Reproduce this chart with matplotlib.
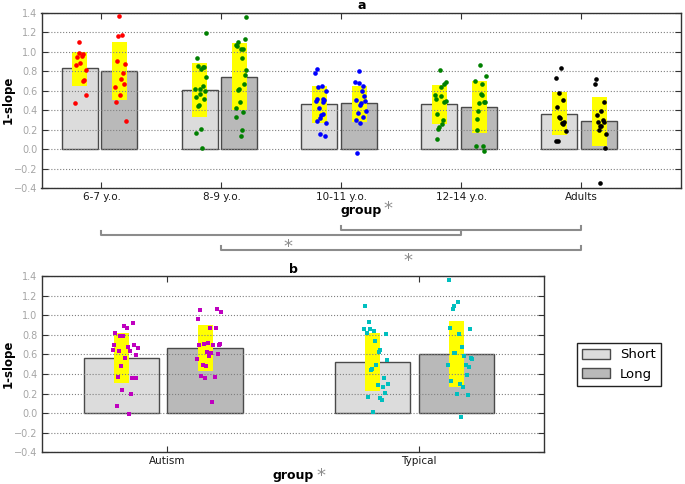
import matplotlib
matplotlib.use("Agg")
import matplotlib.pyplot as plt
from matplotlib.patches import Patch
from matplotlib.transforms import blended_transform_factory

W, H = 685, 484

# ---- panel a: age groups ----
age_groups = ["6-7 y.o.", "8-9 y.o.", "10-11 y.o.", "12-14 y.o.", "Adults"]
age_colors = ["r", "g", "b", "g", "k"]
a_short_mean = [0.83, 0.61, 0.464, 0.461, 0.358]
a_long_mean = [0.80, 0.744, 0.471, 0.434, 0.283]
a_short_lo = [0.65, 0.33, 0.27, 0.26, 0.14]
a_short_hi = [1.00, 0.888, 0.652, 0.659, 0.584]
a_long_lo = [0.50, 0.406, 0.277, 0.16, 0.027]
a_long_hi = [1.10, 1.086, 0.652, 0.703, 0.533]

a_short_pts = [
    [1.10, 0.983, 0.976, 0.949, 0.96, 0.88, 0.86, 0.816, 0.71, 0.70, 0.556, 0.468],
    [1.188, 0.932, 0.857, 0.847, 0.84, 0.819, 0.741, 0.649, 0.618, 0.615, 0.591, 0.539,
     0.563, 0.509, 0.457, 0.444, 0.205, 0.164, 0.007],
    [0.826, 0.785, 0.652, 0.635, 0.601, 0.512, 0.498, 0.512, 0.502, 0.488, 0.417, 0.362,
     0.345, 0.318, 0.29, 0.263, 0.154, 0.13],
    [0.809, 0.69, 0.673, 0.638, 0.56, 0.546, 0.516, 0.492, 0.485, 0.362, 0.3, 0.259,
     0.225, 0.201, 0.099],
    [0.836, 0.731, 0.58, 0.502, 0.434, 0.331, 0.321, 0.273, 0.263, 0.256, 0.184, 0.079, 0.079],
]
a_short_jit = [
    [-0.186, -0.19, -0.158, -0.2, -0.164, -0.18, -0.21, -0.133, -0.147, -0.156, -0.125, -0.217],
    [-0.131, -0.203, -0.197, -0.156, -0.142, -0.167, -0.125, -0.153, -0.219, -0.181, -0.136,
     -0.214, -0.175, -0.144, -0.189, -0.194, -0.172, -0.211, -0.161],
    [-0.206, -0.217, -0.161, -0.192, -0.131, -0.2, -0.214, -0.15, -0.144, -0.156, -0.186,
     -0.153, -0.169, -0.181, -0.2, -0.125, -0.175, -0.136],
    [-0.178, -0.131, -0.142, -0.167, -0.219, -0.172, -0.211, -0.131, -0.142, -0.2, -0.156,
     -0.161, -0.186, -0.192, -0.206],
    [-0.169, -0.211, -0.183, -0.156, -0.206, -0.189, -0.178, -0.142, -0.158, -0.15, -0.131,
     -0.214, -0.194],
]
a_long_pts = [
    [1.366, 1.164, 1.175, 0.905, 0.871, 0.785, 0.724, 0.673, 0.642, 0.553, 0.488, 0.283],
    [1.352, 1.103, 1.133, 1.065, 1.062, 1.031, 1.024, 0.939, 0.809, 0.758, 0.666, 0.618,
     0.611, 0.478, 0.423, 0.376, 0.328, 0.198, 0.137],
    [0.806, 0.693, 0.676, 0.652, 0.591, 0.543, 0.495, 0.502, 0.471, 0.454, 0.393, 0.372,
     0.331, 0.297, 0.266, -0.041],
    [0.867, 0.755, 0.703, 0.669, 0.57, 0.556, 0.488, 0.481, 0.475, 0.393, 0.311, 0.191,
     0.027, 0.027, -0.02],
    [0.717, 0.666, 0.478, 0.389, 0.345, 0.3, 0.273, 0.28, 0.236, 0.239, 0.198, 0.15, 0.007, -0.348],
]
a_long_jit = [
    [0.147, 0.139, 0.175, 0.128, 0.197, 0.18, 0.164, 0.189, 0.114, 0.155, 0.122, 0.205],
    [0.203, 0.136, 0.192, 0.117, 0.133, 0.178, 0.161, 0.169, 0.208, 0.197, 0.189, 0.144,
     0.136, 0.153, 0.117, 0.183, 0.125, 0.172, 0.161],
    [0.144, 0.114, 0.144, 0.183, 0.169, 0.189, 0.197, 0.125, 0.161, 0.153, 0.208, 0.136,
     0.181, 0.122, 0.158, 0.131],
    [0.156, 0.206, 0.114, 0.169, 0.161, 0.175, 0.197, 0.186, 0.15, 0.139, 0.128, 0.133,
     0.119, 0.181, 0.192],
    [0.119, 0.114, 0.186, 0.164, 0.128, 0.178, 0.136, 0.189, 0.167, 0.156, 0.144, 0.208,
     0.197, 0.156],
]

# ---- panel b: diagnosis ----
diag_groups = ["Autism", "Typical"]
diag_colors = ["m", "c"]
b_short_mean = [0.563, 0.522]
b_long_mean = [0.663, 0.604]
b_short_lo = [0.305, 0.226]
b_short_hi = [0.818, 0.818]
b_long_lo = [0.428, 0.268]
b_long_hi = [0.896, 0.938]

b_short_pts = [
    [0.919, 0.892, 0.868, 0.814, 0.787, 0.787, 0.695, 0.675, 0.692, 0.665, 0.645, 0.638,
     0.638, 0.59, 0.563, 0.485, 0.366, 0.36, 0.363, 0.241, 0.194, 0.072, -0.006],
    [1.095, 0.926, 0.855, 0.855, 0.835, 0.818, 0.804, 0.736, 0.648, 0.628, 0.543, 0.495,
     0.455, 0.441, 0.363, 0.302, 0.288, 0.265, 0.204, 0.166, 0.156, 0.132, 0.011],
]
b_short_jit = [
    [-0.137, -0.171, -0.162, -0.207, -0.188, -0.176, -0.211, -0.158, -0.131, -0.118, -0.215,
     -0.192, -0.15, -0.126, -0.167, -0.184, -0.198, -0.139, -0.123, -0.179, -0.145, -0.201, -0.154],
    [-0.212, -0.199, -0.216, -0.195, -0.176, -0.207, -0.128, -0.172, -0.152, -0.159, -0.124,
     -0.168, -0.185, -0.189, -0.138, -0.12, -0.163, -0.143, -0.134, -0.203, -0.155, -0.146, -0.181],
]
b_long_pts = [
    [1.051, 1.065, 1.031, 0.963, 0.865, 0.868, 0.695, 0.706, 0.716, 0.692, 0.699, 0.709,
     0.621, 0.611, 0.584, 0.604, 0.55, 0.488, 0.482, 0.38, 0.36, 0.37, 0.116],
    [1.36, 1.13, 1.095, 1.058, 0.868, 0.862, 0.807, 0.672, 0.617, 0.614, 0.587, 0.567,
     0.553, 0.489, 0.492, 0.472, 0.394, 0.299, 0.265, 0.329, 0.197, 0.19, -0.037],
]
b_long_jit = [
    [0.131, 0.197, 0.214, 0.123, 0.171, 0.192, 0.127, 0.144, 0.161, 0.183, 0.205, 0.209,
     0.157, 0.175, 0.165, 0.2, 0.118, 0.14, 0.152, 0.135, 0.148, 0.188, 0.179],
    [0.122, 0.156, 0.141, 0.135, 0.126, 0.204, 0.162, 0.174, 0.146, 0.142, 0.182, 0.209,
     0.213, 0.117, 0.187, 0.2, 0.191, 0.166, 0.178, 0.13, 0.152, 0.196, 0.17],
]

yticks = [-0.4, -0.2, 0.0, 0.2, 0.4, 0.6, 0.8, 1.0, 1.2, 1.4]
short_col = "#dcdcdc"
long_col = "#b9b9b9"
edge_col = "#4a4a4a"
star_col = "#8c8c8c"


def fx(px):
    return px / W


def fy(px):
    return 1 - px / H


def draw_panel(ax, labels, colors, s_mean, l_mean, s_lo, s_hi, l_lo, l_hi,
               s_pts, s_jit, l_pts, l_jit, yel_w, marker, msize):
    for i in range(len(labels)):
        ax.bar(i - 0.333, s_mean[i], width=0.3, align="edge", color=short_col,
               edgecolor=edge_col, linewidth=1, zorder=1)
        ax.bar(i, l_mean[i], width=0.3, align="edge", color=long_col,
               edgecolor=edge_col, linewidth=1, zorder=1)
        ax.bar(i - 0.183, s_hi[i] - s_lo[i], bottom=s_lo[i], width=yel_w,
               color="#ffff00", linewidth=0, zorder=1.5)
        ax.bar(i + 0.15, l_hi[i] - l_lo[i], bottom=l_lo[i], width=yel_w,
               color="#ffff00", linewidth=0, zorder=1.5)
        ax.scatter([i + j for j in s_jit[i]], s_pts[i], s=msize, marker=marker,
                   color=colors[i], linewidths=0, zorder=3)
        ax.scatter([i + j for j in l_jit[i]], l_pts[i], s=msize, marker=marker,
                   color=colors[i], linewidths=0, zorder=3)
    ax.set_ylim(-0.4, 1.4)
    ax.set_yticks(yticks)
    ax.set_xticks(range(len(labels)))
    ax.set_xticklabels(labels)
    ax.yaxis.grid(True, linestyle=":", color="#808080", linewidth=0.8, zorder=2)
    ax.tick_params(direction="in", top=True, right=True, length=4, width=0.8,
                   color="#333333")
    ax.tick_params(axis="y", labelsize=7, labelcolor="#a5a5a5", pad=3)
    ax.tick_params(axis="x", labelsize=7.5, labelcolor="#1a1a1a", pad=3)
    for sp in ax.spines.values():
        sp.set_color("#333333")
        sp.set_linewidth(1)


fig = plt.figure(figsize=(W / 100, H / 100), dpi=100)

ax_a = fig.add_axes([fx(41.5), fy(188), fx(639.5), 175.3 / H])
draw_panel(ax_a, age_groups, age_colors, a_short_mean, a_long_mean, a_short_lo,
           a_short_hi, a_long_lo, a_long_hi, a_short_pts, a_short_jit,
           a_long_pts, a_long_jit, 0.125, "o", 11)
ax_a.set_xlim(-0.5, 4.83)

ax_b = fig.add_axes([fx(41.7), fy(452.3), fx(502.6), 176.3 / H])
draw_panel(ax_b, diag_groups, diag_colors, b_short_mean, b_long_mean, b_short_lo,
           b_short_hi, b_long_lo, b_long_hi, b_short_pts, b_short_jit,
           b_long_pts, b_long_jit, 0.06, "s", 12)
ax_b.set_xlim(-0.5, 1.5)

# titles and axis labels
fig.text(fx(361.3), fy(8.6), "a", ha="center", va="baseline", fontsize=9, fontweight="bold")
fig.text(fx(293), fy(273.3), "b", ha="center", va="baseline", fontsize=9, fontweight="bold")
fig.text(fx(8), fy(100.3), "1-slope", rotation=90, ha="center", va="center",
         fontsize=8.5, fontweight="bold")
fig.text(fx(8), fy(364), "1-slope", rotation=90, ha="center", va="center",
         fontsize=8.5, fontweight="bold")
fig.text(fx(361.3), fy(213.7), "group", ha="center", va="baseline", fontsize=9,
         fontweight="bold")
fig.text(fx(293), fy(478.7), "group", ha="center", va="baseline", fontsize=9,
         fontweight="bold")

# significance stars
for sx, sy in [(388, 213.7), (288, 252.4), (408, 265.7), (320.7, 480.7)]:
    fig.text(fx(sx), fy(sy), "*", ha="center", va="baseline", fontsize=13, color=star_col)

# brackets between age groups
trans = blended_transform_factory(ax_a.transData, fig.transFigure)
for g0, g1, ypx in [(2, 4, 230), (0, 3, 235), (1, 4, 250)]:
    ax_a.plot([g0, g0, g1, g1], [fy(ypx - 4), fy(ypx), fy(ypx), fy(ypx - 4)],
              transform=trans, clip_on=False, color=star_col, linewidth=1.5)
ax_a.set_xlim(-0.5, 4.83)

handles = [Patch(facecolor=short_col, edgecolor=edge_col, linewidth=1),
           Patch(facecolor=long_col, edgecolor=edge_col, linewidth=1)]
leg = fig.legend(handles, ["Short", "Long"], loc="center",
                 bbox_to_anchor=(fx(618.8), fy(364.5)), fontsize=9.5,
                 fancybox=False, framealpha=1, edgecolor="#222222",
                 handlelength=2.1, handleheight=0.8)
leg.get_frame().set_linewidth(1)

fig.savefig("out.png", dpi=100)
